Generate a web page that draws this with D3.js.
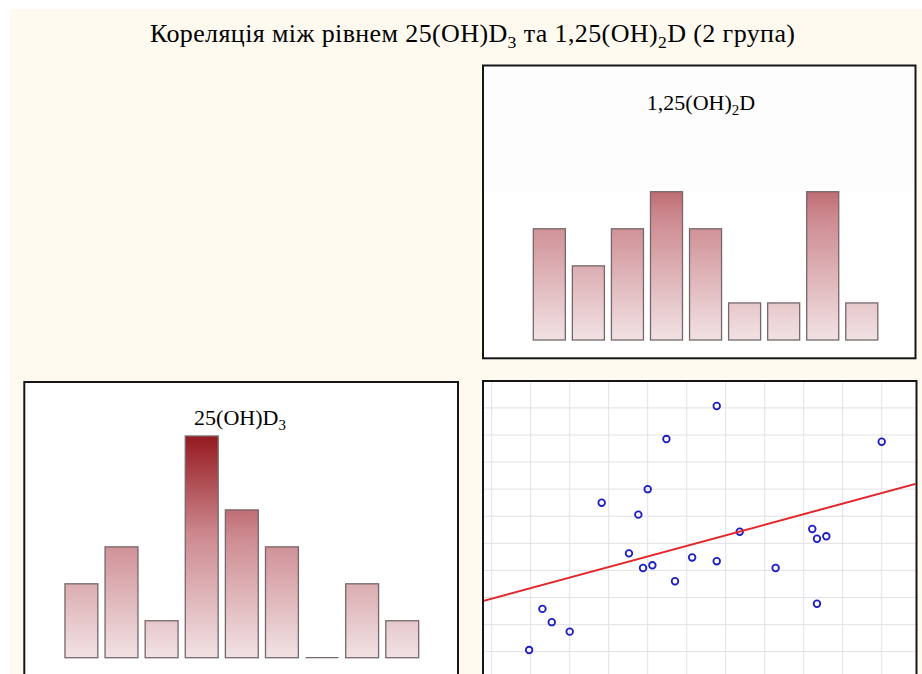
<!DOCTYPE html>
<html>
<head>
<meta charset="utf-8">
<script src="https://cdn.jsdelivr.net/npm/d3@7/dist/d3.min.js"></script>
<style>
  html, body { margin: 0; padding: 0; background: #ffffff; }
  svg { display: block; }
  text { font-family: "Liberation Serif", "DejaVu Serif", serif; fill: #000; }
</style>
</head>
<body>
<svg id="chart" width="922" height="674" font-family="Liberation Serif, DejaVu Serif, serif"></svg>
<script>
// Histogram bins (9 classes each) and counts
const binNames = ["1", "2", "3", "4", "5", "6", "7", "8", "9"];
const countsD3 = [2, 3, 1, 6, 4, 3, 0, 2, 1];        // 25(OH)D3
const countsD2 = [3, 2, 3, 4, 3, 1, 1, 4, 1];        // 1,25(OH)2D

// Paired observations: x = 25(OH)D3, y = 1,25(OH)2D
const pointX = [33.85, 27.4, 55.0, 25.0, 19.1, 23.8, 36.8, 46.1, 46.7, 47.9, 22.6,
                30.7, 33.85, 24.4, 25.6, 41.4, 28.5, 46.7, 11.5, 12.7, 15.0, 9.8];
const pointY = [100.7, 88.5, 87.5, 70.0, 65.0, 60.6, 54.3, 55.3, 51.7, 52.6, 46.3,
                44.8, 43.4, 40.9, 41.9, 40.9, 36.0, 27.7, 25.8, 20.9, 17.4, 10.6];

const titleText = ["Кореляція між рівнем 25(OH)D", "3", " та 1,25(OH)", "2", "D (2 група)"];
const titleD2 = ["1,25(OH)", "2", "D"];
const titleD3 = ["25(OH)D", "3", ""];

const svg = d3.select("#chart");

// page background
svg.append("rect").attr("x", 10).attr("y", 9).attr("width", 912).attr("height", 665)
  .attr("fill", "#fffaf0");

// helper: text with subscripts (odd parts are subscripts)
function subText(g, parts, x, y, size) {
  const t = g.append("text").attr("x", x).attr("y", y)
    .attr("text-anchor", "middle")
    .attr("font-family", "Liberation Serif, DejaVu Serif, serif")
    .style("font-size", size + "px");
  parts.forEach((p, i) => {
    if (!p) return;
    const sub = i % 2 === 1;
    t.append("tspan")
      .attr("dy", sub ? size * 0.22 : (i > 0 ? -size * 0.22 : 0))
      .style("font-size", sub ? (size * 0.68) + "px" : size + "px")
      .text(p);
  });
  return t;
}

subText(svg, titleText, 472.5, 42, 26)
  .attr("textLength", 645).attr("lengthAdjust", "spacing");

const defs = svg.append("defs");

// Panel frames
const panels = {
  top:   { x: 483, y: 65.5, w: 432.5, h: 292.8 },
  left:  { x: 24.3, y: 382, w: 433.7, h: 330 },
  right: { x: 483, y: 381, w: 433.5, h: 330 }
};

Object.entries(panels).forEach(([k, p]) => {
  svg.append("rect").attr("class", "panel-bg").attr("x", p.x).attr("y", p.y)
    .attr("width", p.w).attr("height", p.h).attr("fill", "#ffffff");
  defs.append("clipPath").attr("id", "clip-" + k).append("rect")
    .attr("x", p.x + 1).attr("y", p.y + 1).attr("width", p.w - 2).attr("height", p.h - 2);
});

// very faint haze across the top of the upper histogram panel
svg.append("rect").attr("x", 484).attr("y", 66.5).attr("width", 430).attr("height", 125)
  .attr("fill", "#f7f7f4").attr("opacity", 0.2);

// Histogram drawing
function histogram(id, counts, bandRange, baseY, unitPx, titleParts, titleX, titleY) {
  const x = d3.scaleBand().domain(binNames).range(bandRange)
    .paddingInner(0.18).paddingOuter(0.09);
  const y = d3.scaleLinear().domain([0, 6]).range([baseY, baseY - 6 * unitPx]);

  const grad = defs.append("linearGradient").attr("id", "grad-" + id)
    .attr("gradientUnits", "userSpaceOnUse")
    .attr("x1", 0).attr("x2", 0).attr("y1", y(0)).attr("y2", y(6));
  grad.append("stop").attr("offset", "0%").attr("stop-color", "#f1e2e4");
  grad.append("stop").attr("offset", "55%").attr("stop-color", "#cd8a90");
  grad.append("stop").attr("offset", "100%").attr("stop-color", "#951a20");

  const g = svg.append("g").attr("clip-path", "url(#clip-" + id + ")");
  subText(g, titleParts, titleX, titleY, 22);

  g.selectAll("rect.bar").data(counts.map((c, i) => ({ bin: binNames[i], c })).filter(d => d.c > 0))
    .join("rect").attr("class", "bar")
    .attr("x", d => x(d.bin))
    .attr("width", x.bandwidth())
    .attr("y", d => y(d.c))
    .attr("height", d => y(0) - y(d.c))
    .attr("fill", "url(#grad-" + id + ")")
    .attr("stroke", "#76676a")
    .attr("stroke-width", 1.3);

  // empty classes are shown as a flat line on the baseline
  g.selectAll("line.empty").data(counts.map((c, i) => ({ bin: binNames[i], c })).filter(d => d.c === 0))
    .join("line").attr("class", "empty")
    .attr("x1", d => x(d.bin)).attr("x2", d => x(d.bin) + x.bandwidth())
    .attr("y1", y(0)).attr("y2", y(0))
    .attr("stroke", "#76676a").attr("stroke-width", 1.3);
}

histogram("top", countsD2, [529.8, 881.3], 340, 37.07, titleD2, 701, 110);
histogram("left", countsD3, [61.35, 422.3], 657.7, 36.95, titleD3, 240, 425);

// Scatter plot
const sx = d3.scaleLinear().domain([5, 55]).range([491.7, 881.7]);
const sy = d3.scaleLinear().domain([10, 100]).range([651.7, 407.9]);
const sg = svg.append("g").attr("clip-path", "url(#clip-right)");

sg.append("g").selectAll("line").data(d3.range(0, 61, 5)).join("line")
  .attr("x1", d => sx(d)).attr("x2", d => sx(d))
  .attr("y1", 381).attr("y2", 674)
  .attr("stroke", "#e1e1e8").attr("stroke-width", 1);
sg.append("g").selectAll("line").data(d3.range(0, 111, 10)).join("line")
  .attr("x1", 483).attr("x2", 917)
  .attr("y1", d => sy(d)).attr("y2", d => sy(d))
  .attr("stroke", "#e1e1e8").attr("stroke-width", 1);

sg.append("g").selectAll("circle").data(pointX).join("circle")
  .attr("cx", d => sx(d)).attr("cy", (d, i) => sy(pointY[i]))
  .attr("r", 3.3).attr("fill", "none")
  .attr("stroke", "#1d1dc4").attr("stroke-width", 1.8);

// least-squares fit line
const mx = d3.mean(pointX), my = d3.mean(pointY);
const sxy = d3.sum(pointX, (d, i) => (d - mx) * (pointY[i] - my));
const sxx = d3.sum(pointX, d => (d - mx) * (d - mx));
const slope = sxy / sxx, intercept = my - slope * mx;
const xa = sx.invert(483), xb = sx.invert(917);
sg.append("line")
  .attr("x1", sx(xa)).attr("y1", sy(intercept + slope * xa))
  .attr("x2", sx(xb)).attr("y2", sy(intercept + slope * xb))
  .attr("stroke", "#e3262b").attr("stroke-width", 2);

// frames on top
Object.values(panels).forEach(p => {
  svg.append("rect").attr("x", p.x).attr("y", p.y).attr("width", p.w).attr("height", p.h)
    .attr("fill", "none").attr("stroke", "#161616").attr("stroke-width", 2);
});
</script>
</body>
</html>
